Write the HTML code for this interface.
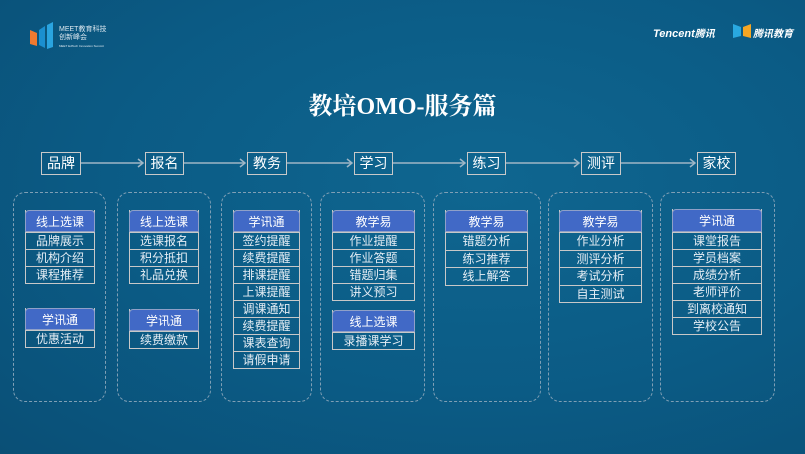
<!DOCTYPE html>
<html><head><meta charset="utf-8"><style>
*{margin:0;padding:0;box-sizing:border-box}
body{width:805px;height:454px;overflow:hidden;background:#0b5a84;position:relative;font-family:"Liberation Sans","Noto Sans CJK SC",sans-serif;color:#fff}
.bg{position:absolute;inset:0;background:radial-gradient(ellipse at 60% 40%,#0f6690 0%,#0b5b85 55%,#0a4f76 100%)}
.a{position:absolute}
.hb{position:absolute;top:152px;height:23px;border:1px solid #c9c9c9;font-size:14px;line-height:21px;text-align:center}
.grp{position:absolute;top:192px;height:210px;border:1.3px dashed #7f9fb5;border-radius:12px}
.card{position:absolute;border:1px solid #c8c8c8;border-top:none}
.card .h{background:#4169c6;height:22px;line-height:22px;text-align:center;font-size:12px;border:1px solid #8fa0c8;border-radius:4px 4px 0 0;margin:0 -1px}
.card .r{height:17px;line-height:16px;text-align:center;font-size:12px;color:#e6eef5;border-top:1px solid #c8c8c8}
</style></head><body>
<div class="bg"></div>
<svg class="a" style="left:0;top:0" width="805" height="454">
 <polygon points="30,30 37,33 37,46 30,44" fill="#f07a30"/>
 <polygon points="39,30 45,26 45,48 39,45" fill="#1b8fd0"/>
 <polygon points="47,25 53,22 53,47 47,49" fill="#2aa4e0"/>
 <polygon points="733,24 741,27 741,36 733,38" fill="#29a8e0"/>
 <polygon points="743,27 751,24 751,38 743,36" fill="#f5a623"/>
 <g stroke="#9fb6c6" stroke-width="1.5" fill="none">
  <line x1="81" y1="163" x2="143" y2="163"/><polyline points="138,159 143,163 138,167"/>
  <line x1="184" y1="163" x2="245" y2="163"/><polyline points="240,159 245,163 240,167"/>
  <line x1="287" y1="163" x2="352" y2="163"/><polyline points="347,159 352,163 347,167"/>
  <line x1="393" y1="163" x2="465" y2="163"/><polyline points="460,159 465,163 460,167"/>
  <line x1="506" y1="163" x2="579" y2="163"/><polyline points="574,159 579,163 574,167"/>
  <line x1="621" y1="163" x2="695" y2="163"/><polyline points="690,159 695,163 690,167"/>
 </g>
</svg>
<div class="a" style="left:59px;top:26px;font-size:7px;line-height:8px;color:#dce8f0">MEET教育科技<br>创新峰会<br><span style="font-size:3px">MEET EdTech Innovation Summit</span></div>
<div class="a" style="left:653px;top:25px;font-size:11px;font-style:italic;font-weight:bold;color:#fff">Tencent<span style="font-size:10px">腾讯</span></div>
<div class="a" style="left:753px;top:25px;font-size:10px;font-weight:bold;font-style:italic;color:#fff">腾讯教育</div>
<div class="a" style="left:0;width:805px;top:86px;text-align:center;font-size:24px;font-weight:bold;font-family:'Liberation Serif','Noto Serif CJK SC',serif">教培OMO-服务篇</div>

<div class="hb" style="left:41px;width:40px">品牌</div>
<div class="hb" style="left:145px;width:39px">报名</div>
<div class="hb" style="left:247px;width:40px">教务</div>
<div class="hb" style="left:354px;width:39px">学习</div>
<div class="hb" style="left:467px;width:39px">练习</div>
<div class="hb" style="left:581px;width:40px">测评</div>
<div class="hb" style="left:697px;width:39px">家校</div>

<div class="grp" style="left:13px;width:93px"></div>
<div class="grp" style="left:117px;width:94px"></div>
<div class="grp" style="left:221px;width:91px"></div>
<div class="grp" style="left:320px;width:105px"></div>
<div class="grp" style="left:433px;width:108px"></div>
<div class="grp" style="left:548px;width:105px"></div>
<div class="grp" style="left:660px;width:115px"></div>

<div class="card" style="left:25px;top:210px;width:70px"><div class="h">线上选课</div><div class="r">品牌展示</div><div class="r">机构介绍</div><div class="r">课程推荐</div></div>
<div class="card" style="left:25px;top:308px;width:70px"><div class="h">学讯通</div><div class="r">优惠活动</div></div>
<div class="card" style="left:129px;top:210px;width:70px"><div class="h">线上选课</div><div class="r">选课报名</div><div class="r">积分抵扣</div><div class="r">礼品兑换</div></div>
<div class="card" style="left:129px;top:309px;width:70px"><div class="h">学讯通</div><div class="r">续费缴款</div></div>
<div class="card" style="left:233px;top:210px;width:67px"><div class="h">学讯通</div><div class="r">签约提醒</div><div class="r">续费提醒</div><div class="r">排课提醒</div><div class="r">上课提醒</div><div class="r">调课通知</div><div class="r">续费提醒</div><div class="r">课表查询</div><div class="r">请假申请</div></div>
<div class="card" style="left:332px;top:210px;width:83px"><div class="h">教学易</div><div class="r">作业提醒</div><div class="r">作业答题</div><div class="r">错题归集</div><div class="r">讲义预习</div></div>
<div class="card" style="left:332px;top:310px;width:83px"><div class="h">线上选课</div><div class="r">录播课学习</div></div>
<div class="card" style="left:445px;top:210px;width:83px"><div class="h">教学易</div><div class="r" style="height:17.5px">错题分析</div><div class="r" style="height:17.5px">练习推荐</div><div class="r" style="height:17.5px">线上解答</div></div>
<div class="card" style="left:559px;top:210px;width:83px"><div class="h">教学易</div><div class="r" style="height:17.5px">作业分析</div><div class="r" style="height:17.5px">测评分析</div><div class="r" style="height:17.5px">考试分析</div><div class="r" style="height:17.5px">自主测试</div></div>
<div class="card" style="left:672px;top:209px;width:90px"><div class="h" style="height:23px">学讯通</div><div class="r">课堂报告</div><div class="r">学员档案</div><div class="r">成绩分析</div><div class="r">老师评价</div><div class="r">到离校通知</div><div class="r">学校公告</div></div>
</body></html>
